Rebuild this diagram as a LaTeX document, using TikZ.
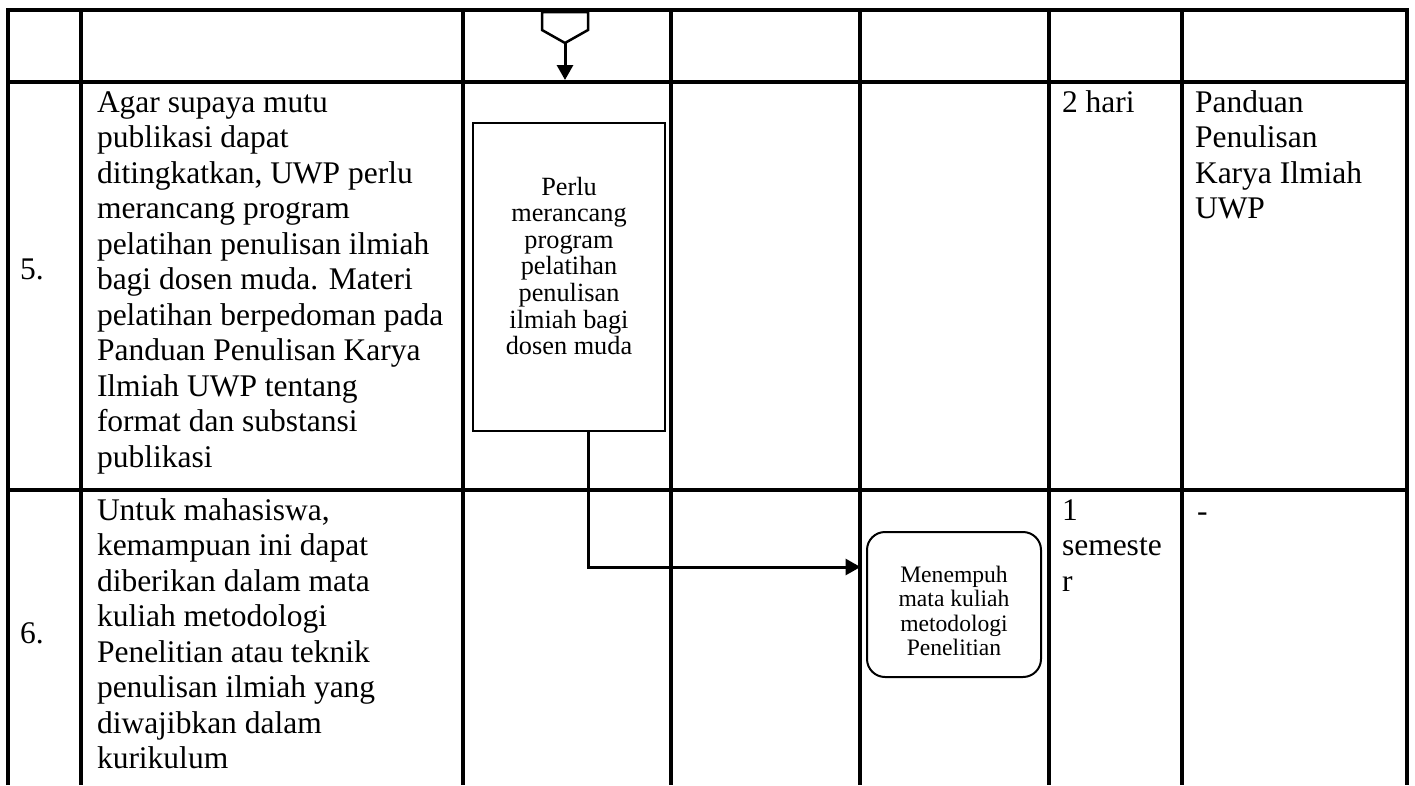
\documentclass[tikz,border=0pt]{standalone}
\usepackage{fontspec}
\setmainfont{Liberation Serif}
\usetikzlibrary{arrows.meta}
\begin{document}
\begin{tikzpicture}[x=1pt,y=-1pt,
  grid/.style={line width=4pt},
  main/.style={font=\fontsize{31.5}{35.5}\selectfont, inner sep=0pt, outer sep=0pt, anchor=north west, align=left},
  single/.style={font=\fontsize{31.5}{35.5}\selectfont, inner sep=0pt, outer sep=0pt, anchor=base west},
  procbox/.style={draw, line width=2pt, rectangle, inner sep=0pt, outer sep=0pt},
  roundbox/.style={draw, line width=2pt, rectangle, rounded corners=18pt, inner sep=0pt, outer sep=0pt},
  boxtext/.style={font=\fontsize{26.3}{26.6}\selectfont, inner sep=0pt, outer sep=0pt, anchor=north, align=center},
  rtext/.style={font=\fontsize{23.6}{24.5}\selectfont, inner sep=0pt, outer sep=0pt, anchor=north, align=center},
  arr/.style={line width=3pt, -{Triangle[length=15pt,width=16pt]}},
  offpage/.style={line width=2.5pt, line join=miter}
]
\useasboundingbox (0,0) rectangle (1415,785);

% table grid
\draw[grid] (8,785) -- (8,10) -- (1407,10) -- (1407,785);
\foreach \x in {81,463,671,860,1049,1182} \draw[grid] (\x,10) -- (\x,785);
\draw[grid] (8,82) -- (1407,82);
\draw[grid] (8,490) -- (1407,490);

% off-page connector at top
\coordinate (op) at (565,43);
\coordinate (r5top) at (565,80);
\draw[offpage] (542,12) -- (542,30) -- (op) -- (588,30) -- (588,12) -- cycle;
\draw[arr] (op) -- (r5top);

% row numbers
\node[single] (no5) at (20,279) {5.};
\node[single] (no6) at (20,643) {6.};

% row 5 texts
\node[main] (desc5) at (97,87) {\rule{0pt}{25pt}Agar supaya mutu\\publikasi dapat\\ditingkatkan, UWP perlu\\merancang program\\pelatihan penulisan ilmiah\\bagi dosen muda. Materi\\pelatihan berpedoman pada\\Panduan Penulisan Karya\\Ilmiah UWP tentang\\format dan substansi\\publikasi};
\node[single] (time5) at (1062,112) {2 hari};
\node[main] (doc5) at (1195,87) {\rule{0pt}{25pt}Panduan\\Penulisan\\Karya Ilmiah\\UWP};

% row 6 texts
\node[main] (desc6) at (97,495) {\rule{0pt}{25pt}Untuk mahasiswa,\\kemampuan ini dapat\\diberikan dalam mata\\kuliah metodologi\\Penelitian atau teknik\\penulisan ilmiah yang\\diwajibkan dalam\\kurikulum};
\node[main] (time6) at (1062,495) {\rule{0pt}{25pt}1\\semeste\\r};
\node[single] (doc6) at (1197,521) {-};

% process box
\node[procbox, minimum width=192pt, minimum height=308pt] (box5) at (569,277) {};
\node[boxtext] (box5t) at (569,175) {\rule{0pt}{20pt}Perlu\\merancang\\program\\pelatihan\\penulisan\\ilmiah bagi\\dosen muda};

% rounded box
\node[roundbox, minimum width=174pt, minimum height=145pt] (rbox) at (954,604.5) {};
\node[rtext] (rboxt) at (954,564) {\rule{0pt}{18pt}Menempuh\\mata kuliah\\metodologi\\Penelitian};

% connector
\draw[arr, line join=miter] ([xshift=19pt]box5.south) |- ([xshift=-6.5pt,yshift=37.5pt]rbox.west);
\end{tikzpicture}
\end{document}
